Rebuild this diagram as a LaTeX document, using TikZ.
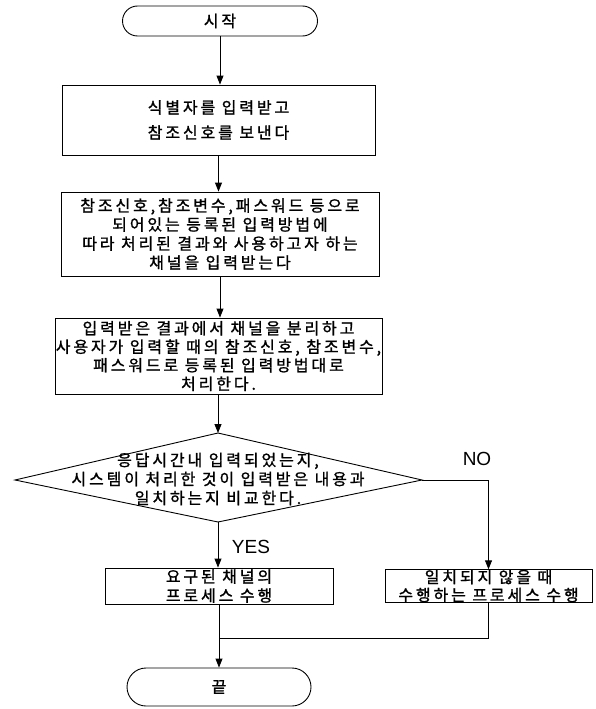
\documentclass[tikz,border=0pt]{standalone}
\usepackage{fontspec}
\newfontfamily\kr[LetterSpace=18,FakeBold=1.2]{Noto Sans CJK KR}
\newfontfamily\lat{Liberation Sans}
\usetikzlibrary{arrows.meta,shapes.misc,calc}
\begin{document}
\begin{tikzpicture}[x=1pt,y=-1pt,
  box/.style={draw, line width=0.9pt, inner sep=0pt, align=center, font=\kr\fontsize{16}{19}\selectfont},
  term/.style={draw, line width=0.9pt, rounded rectangle, inner sep=0pt, font=\kr\fontsize{16}{19}\selectfont},
  arr/.style={-{Triangle[length=9pt,width=7pt]}, line width=0.9pt},
  ln/.style={line width=0.9pt},
  lab/.style={font=\lat\fontsize{19}{22}\selectfont, inner sep=0pt}]
\useasboundingbox (0,0) rectangle (595,709);
\node[term, minimum width=195pt, minimum height=30pt] (start) at (220,21) {시작};
\node[box, minimum width=313pt, minimum height=70pt, font=\kr\fontsize{16}{25}\selectfont] (b2) at (218.5,120) {식별자를 입력받고\\참조신호를 보낸다};
\node[box, minimum width=318pt, minimum height=84pt] (b3) at (220,234) {참조신호,참조변수,패스워드 등으로\\되어있는 등록된 입력방법에\\따라 처리된 결과와 사용하고자 하는\\채널을 입력받는다};
\node[box, minimum width=327pt, minimum height=76pt, font=\kr\fontsize{16}{18.5}\selectfont] (b4) at (218.5,356) {입력받은 결과에서 채널을 분리하고\\사용자가 입력할 때의 참조신호, 참조변수,\\패스워드로 등록된 입력방법대로\\처리한다.};
\coordinate (dt) at (218,433);
\coordinate (dr) at (422,480);
\coordinate (db) at (218,522);
\coordinate (dl) at (15,480);
\draw[ln] (dt) -- (dr) -- (db) -- (dl) -- cycle;
\node[align=center, inner sep=0pt, font=\kr\fontsize{16}{19}\selectfont] (dtext) at (218,479) {응답시간내 입력되었는지,\\시스템이 처리한 것이 입력받은 내용과\\일치하는지 비교한다.};
\node[box, minimum width=228pt, minimum height=36pt] (b6) at (219,586) {요구된 채널의\\프로세스 수행};
\node[box, minimum width=207pt, minimum height=32pt, font=\kr\fontsize{16}{18}\selectfont] (b7) at (488.5,586) {일치되지 않을 때\\수행하는 프로세스 수행};
\node[term, minimum width=184pt, minimum height=38pt] (end) at (219,687) {끝};
\node[lab] (no) at (477,459) {NO};
\node[lab] (yes) at (251,547) {YES};
\coordinate (m) at (219,638);
\draw[arr] (start.south) -- (start.south |- b2.north);
\draw[arr] (b2.south) -- (b2.south |- b3.north);
\draw[arr] (b3.south) -- (b3.south |- b4.north);
\draw[arr] (b4.south -| dt) -- (dt);
\draw[arr] (db) -- (db |- b6.north);
\draw[arr] (dr) -| (b7.north);
\draw[ln] (b7.south) |- (m);
\draw[arr] (b6.south) -- (b6.south |- end.north);
\end{tikzpicture}
\end{document}
